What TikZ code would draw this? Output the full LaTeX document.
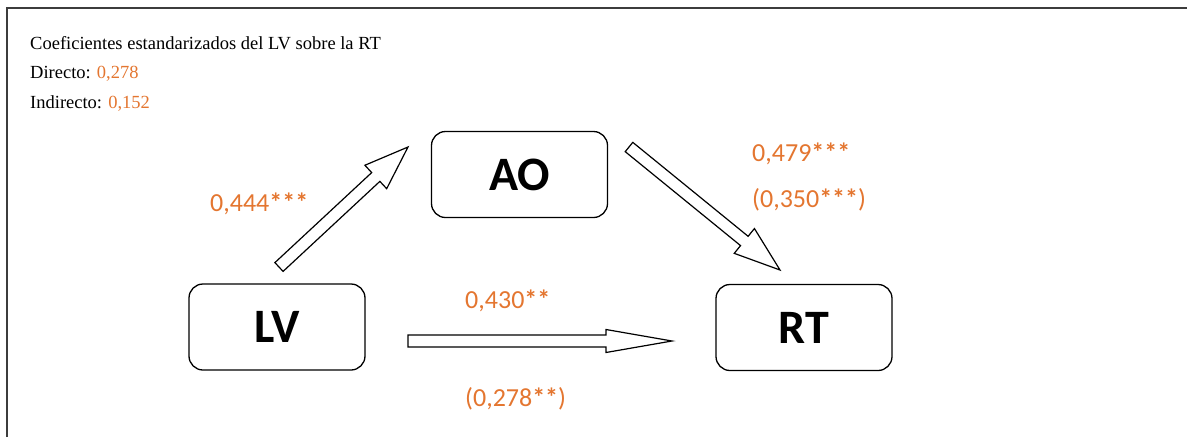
\documentclass[tikz,border=0pt]{standalone}
\usepackage{fontspec}
\setmainfont{Liberation Serif}
\newfontfamily\carl{Carlito}
\usetikzlibrary{calc}
\definecolor{orng}{RGB}{228,118,48}
\definecolor{framec}{RGB}{60,60,60}
\tikzset{
 var/.style={draw, line width=1.3pt, rounded corners=14pt, minimum width=176pt, minimum height=86pt, font=\carl\bfseries\fontsize{48}{48}\selectfont, inner sep=0pt},
 coef/.style={text=orng, font=\carl\fontsize{26}{26}\selectfont, anchor=west, inner sep=0pt},
 headtxt/.style={font=\fontsize{18.5}{18.5}\selectfont, anchor=base west, inner sep=0pt},
 blk/.style={draw, line width=1.2pt, fill=white, line join=miter},
}
\newcommand\st[1]{\textbf{#1}}
% #1 from, #2 to, #3 shaft half width, #4 head half width, #5 head length
\newcommand\blockarrow[5]{%
 \draw[blk] let \p1=($(#2)-(#1)$), \n1={atan2(\y1,\x1)}, \n2={veclen(\x1,\y1)} in
  [shift={(#1)}, rotate=\n1] (0,-#3) -- (\n2-#5,-#3) -- (\n2-#5,-#4) -- (\n2,0) -- (\n2-#5,#4) -- (\n2-#5,#3) -- (0,#3) -- cycle;
}
\begin{document}
\begin{tikzpicture}[x=1pt,y=-1pt]
\useasboundingbox (0,0) rectangle (1187,437);
\fill[white] (0,0) rectangle (1187,437);
\draw[framec, line width=2.2pt] (7,437) -- (7,8) -- (1187,8);

\node[headtxt] (h1) at (30,49) {Coeficientes estandarizados del LV sobre la RT};
\node[headtxt] (h2) at (30,78) {Directo: \textcolor{orng}{0,278}};
\node[headtxt] (h3) at (30,108) {Indirecto: \textcolor{orng}{0,152}};

\node[var] (AO) at (519.5,174.5) {AO};
\node[var] (LV) at (277,327) {LV};
\node[var] (RT) at (804,327.5) {RT};

\coordinate (a1s) at (279,267);
\coordinate (a1e) at (408,147);
\coordinate (a2s) at (629,147);
\coordinate (a2e) at (780,270);
\coordinate (a3s) at (408,341);
\coordinate (a3e) at (672,341);

\blockarrow{a1s}{a1e}{6}{16}{44}
\blockarrow{a2s}{a2e}{6}{16}{46}
\blockarrow{a3s}{a3e}{6}{11.5}{66}

\node[coef] (c1) at (210,204) {0,444\st{***}};
\node[coef] (c2) at (752,154) {0,479\st{***}};
\node[coef] (c3) at (752,200) {(0,350\st{***})};
\node[coef] (c4) at (465,301) {0,430\st{**}};
\node[coef] (c5) at (465,399) {(0,278\st{**})};
\end{tikzpicture}
\end{document}
